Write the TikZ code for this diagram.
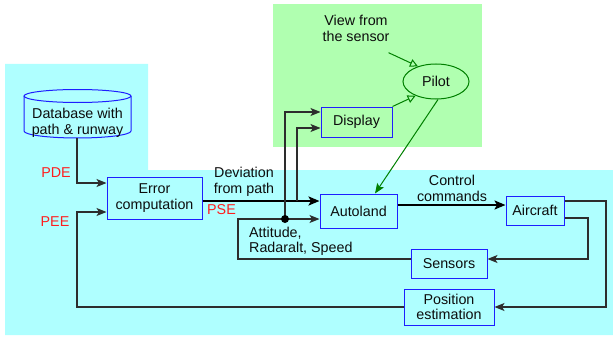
\documentclass[tikz,border=0pt]{standalone}
\usepackage{fontspec}
\setmainfont{Liberation Sans}
\usetikzlibrary{arrows.meta,shapes.geometric}
\definecolor{bgcyan}{RGB}{175,255,255}
\definecolor{bggreen}{RGB}{176,255,176}
\definecolor{boxblue}{RGB}{30,30,255}
\definecolor{linegray}{RGB}{45,45,45}
\definecolor{lblred}{RGB}{255,30,30}
\definecolor{dgreen}{RGB}{0,128,0}
\begin{document}
\begin{tikzpicture}[x=1pt,y=-1pt,
  every node/.style={font=\fontsize{14.3}{15.5}\selectfont, text=black!95},
  blk/.style={draw=boxblue, line width=1pt, inner sep=0pt, align=center},
  lbl/.style={inner sep=0pt, align=center},
  redlbl/.style={inner sep=0pt, text=lblred},
  conn/.style={draw=linegray, line width=1.2pt, -{Stealth[length=10pt,width=8pt,inset=2.5pt]}},
  thickconn/.style={draw=black, line width=2.3pt, -{Stealth[length=11pt,width=9pt,inset=2.5pt]}},
  plain/.style={draw=linegray, line width=1.2pt},
  gopen/.style={draw=dgreen, line width=1pt, -{Triangle[open,length=8pt,width=8pt]}},
  gfill/.style={draw=dgreen, line width=1pt, -{Stealth[length=10pt,width=8pt,inset=2pt]}}
]
\useasboundingbox (0,0) rectangle (613,337);
% backgrounds
\fill[bgcyan] (5,64) -- (148,64) -- (148,170) -- (613,170) -- (613,335) -- (5,335) -- cycle;
\fill[bggreen] (273,4) rectangle (482,147);

% database cylinder
\draw[boxblue, line width=1pt] (24,96) -- (24,131) arc[start angle=180, end angle=0, x radius=53.5, y radius=7] -- (131,96);
\draw[boxblue, line width=1pt] (77.5,96) ellipse [x radius=53.5, y radius=6.5];
\node[lbl] (db) at (77.5,123) {Database with\\path \& runway};
\coordinate (dbb) at (77,138);

% boxes
\node[blk, minimum width=95pt, minimum height=42pt] (err) at (154.5,198) {Error\\computation};
\node[blk, minimum width=77pt, minimum height=34pt] (auto) at (358.5,211) {Autoland};
\node[blk, minimum width=71pt, minimum height=30pt] (disp) at (356.5,122) {Display};
\node[blk, minimum width=58pt, minimum height=29pt] (air) at (535,210.5) {Aircraft};
\node[blk, minimum width=76pt, minimum height=29pt] (sens) at (449,263.5) {Sensors};
\node[blk, minimum width=90pt, minimum height=36pt] (pos) at (449,307) {Position\\estimation};
\node[draw=dgreen, line width=1pt, ellipse, inner sep=0pt, minimum width=66pt, minimum height=35pt] (pilot) at (436,81.5) {Pilot};

% labels
\node[redlbl] (pde) at (56,173) {PDE};
\node[redlbl] (pee) at (55,222) {PEE};
\node[redlbl] (pse) at (221.5,210) {PSE};
\node[lbl] (dev) at (244,182) {Deviation\\from path};
\node[lbl, align=left, anchor=west] (att) at (249,241.5) {Attitude,\\Radaralt, Speed};
\node[lbl] (cc) at (452,188.5) {Control\\commands};
\node[lbl] (view) at (356,28.5) {View from\\the sensor};

% coordinates
\coordinate (j1) at (297,201);
\coordinate (j2) at (285,219);
\coordinate (s1) at (238,259);
\coordinate (r1) at (606,201);
\coordinate (r2) at (588,218);
\coordinate (p1) at (77,307);

% connectors
\draw[conn] (dbb) |- ([yshift=15pt]err.west);
\draw[conn] (pos.west) -- (p1) |- ([yshift=-14pt]err.west);
\draw[thickconn] ([yshift=-3pt]err.east) -- ([yshift=10pt]auto.west);
\draw[conn] (j1) |- ([yshift=-6pt]disp.west);
\draw[conn] ([yshift=4.5pt]sens.west) -- (s1) |- ([yshift=-8pt]auto.west);
\draw[conn] (j2) |- ([yshift=10pt]disp.west);
\fill[black] (j2) circle (4pt);
\draw[thickconn] ([yshift=6pt]auto.east) -- ([yshift=5.5pt]air.west);
\draw[conn] ([yshift=9.5pt]air.east) -- (r1) |- (pos.east);
\draw[conn] ([yshift=-7.5pt]air.east) -- (r2) |- ([yshift=4.5pt]sens.east);

% green connectors
\draw[gopen] ([shift={(-1pt,-11pt)}]view.south east) -- (pilot.140);
\draw[gopen] (disp.north east) -- (pilot.215);
\draw[gfill] ([xshift=2pt]pilot.south) -- ([xshift=16.5pt]auto.north);
\end{tikzpicture}
\end{document}
